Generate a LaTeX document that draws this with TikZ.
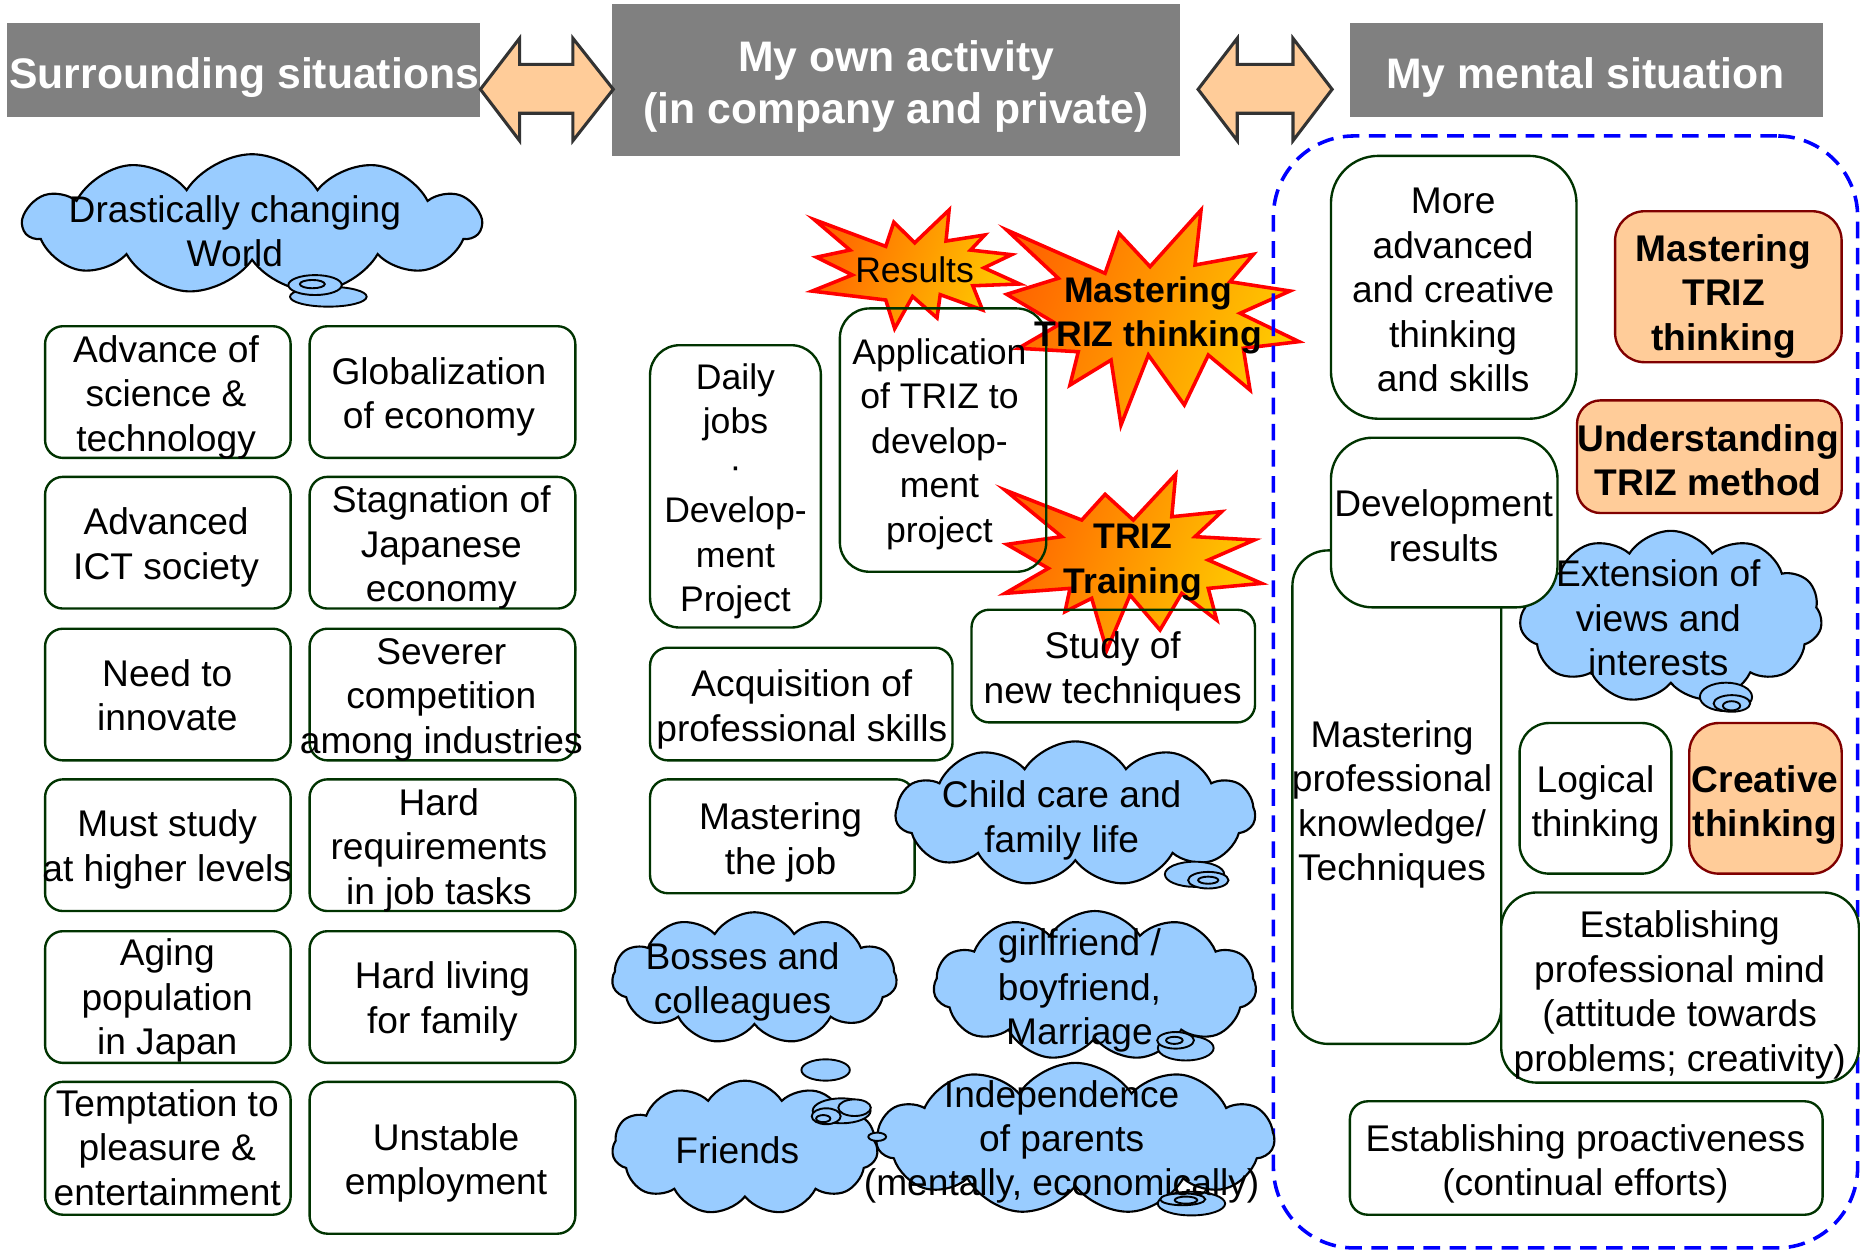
\documentclass[tikz,border=0pt]{standalone}
\usepackage{fontspec}
\setmainfont{Liberation Sans}
\usetikzlibrary{shapes.symbols}
\definecolor{hdrgray}{HTML}{808080}
\definecolor{peach}{HTML}{FFCC99}
\definecolor{arrowedge}{HTML}{333333}
\definecolor{boxgreen}{HTML}{003300}
\definecolor{orangeedge}{HTML}{800000}
\definecolor{cloudblue}{HTML}{99CCFF}
\definecolor{starred}{HTML}{FF0000}
\definecolor{starA}{HTML}{FF6600}
\definecolor{starB}{HTML}{FF9900}
\definecolor{starC}{HTML}{FFCC00}
\definecolor{dashblue}{HTML}{0000FF}
\begin{document}
\begin{tikzpicture}[x=1pt,y=-1pt,
  hdr/.style={rectangle, fill=hdrgray, draw=none, inner sep=0pt},
  hdrtxt/.style={text=white, font=\fontsize{36}{44}\selectfont\bfseries, align=center, inner sep=0pt, execute at begin node=\strut, execute at end node=\strut},
  txt/.style={font=\fontsize{31.3}{37.5}\selectfont, align=center, inner sep=0pt, execute at begin node=\strut, execute at end node=\strut},
  btxt/.style={font=\fontsize{31.3}{37.5}\selectfont\bfseries, align=center, inner sep=0pt, execute at begin node=\strut, execute at end node=\strut},
  sbtxt/.style={font=\fontsize{30}{37.5}\selectfont\bfseries, align=center, inner sep=0pt, execute at begin node=\strut, execute at end node=\strut},
  stxt/.style={font=\fontsize{30}{37.5}\selectfont, align=center, inner sep=0pt, execute at begin node=\strut, execute at end node=\strut},
  gbox/.style={rectangle, draw=boxgreen, line width=2pt, inner sep=0pt, rounded corners=#1},
  gbox/.default=15pt,
  obox/.style={rectangle, draw=orangeedge, fill=peach, line width=2pt, inner sep=0pt, rounded corners=#1},
  obox/.default=22pt,
  cloudy/.style={cloud, cloud puffs=11, cloud puff arc=115, cloud ignores aspect, draw=black, fill=cloudblue, line width=1.8pt, inner sep=0pt},
  bubble/.style={draw=black, fill=cloudblue, line width=1.6pt},
  starshape/.style={draw=starred, line width=3pt, line join=miter, left color=starA, middle color=starB, right color=starC, shading angle=70},
  dblarrow/.style={draw=arrowedge, fill=peach, line width=2.6pt, line join=miter},
  dashframe/.style={rectangle, draw=dashblue, line width=3pt, dash pattern=on 14pt off 8pt, rounded corners=68pt, inner sep=0pt}
]
\useasboundingbox (0,0) rectangle (1568,1055.5);

% ---------- headers ----------
\node[hdr, minimum width=399pt, minimum height=79.2pt] (h1) at (205.5,59.3) {};
\node[hdr, minimum width=479pt, minimum height=127.8pt] (h2) at (755.5,67.3) {};
\node[hdr, minimum width=398.5pt, minimum height=79.2pt] (h3) at (1337.25,59.3) {};
\node[hdrtxt] (h1t) at (205.8,66) {Surrounding situations};
\node[hdrtxt] (h2t) at (755.5,75.5) {My own activity\\(in company and private)};
\node[hdrtxt] (h3t) at (1336.6,66) {My mental situation};

% ---------- double arrows ----------
\draw[dblarrow] (405,75.3) -- (438,32.3) -- (438,54.2) -- (483,54.2) -- (483,32.3) -- (517,75.3)
  -- (483,118.6) -- (483,95.5) -- (438,95.5) -- (438,118.6) -- cycle;
\draw[dblarrow] (1010,75.3) -- (1043,32.3) -- (1043,54.2) -- (1090,54.2) -- (1090,32.3) -- (1123,75.3)
  -- (1090,118.6) -- (1090,95.5) -- (1043,95.5) -- (1043,118.6) -- cycle;

% ---------- stars ----------
\draw[starshape] (686.5,185.2) -- (746.7,207.7) -- (753.5,187.3) -- (771.1,204.7) -- (800.1,177.0)
  -- (797.5,203.2) -- (830.2,198.1) -- (818.2,210.8) -- (852.8,214.7) -- (829.5,225.8)
  -- (859.6,239.4) -- (820.1,240.9) -- (828.3,261.3) -- (792.6,248.4) -- (789.9,268.0)
  -- (769.3,249.9) -- (754.2,277.0) -- (746.7,252.9) -- (684.6,245.4) -- (718.5,231.8)
  -- (688.3,216.8) -- (716.6,210.8) -- cycle;
\draw[starshape] (848.7,193.9) -- (931.6,230.4) -- (943.3,196.7) -- (969.5,224.8) -- (1012.5,177.0)
  -- (1007.4,223.4) -- (1056.6,214.4) -- (1036.9,237.5) -- (1087.5,245.3) -- (1045.4,264.1)
  -- (1095.1,288.0) -- (1048.1,293.6) -- (1053.8,328.8) -- (1018.6,299.3) -- (998.4,341.4)
  -- (968.1,299.3) -- (945.0,358.3) -- (936.6,303.5) -- (902.0,324.6) -- (909.0,296.5)
  -- (858.5,293.6) -- (892.2,274.0) -- (848.7,248.1) -- (892.2,234.6) -- cycle;
\draw[starshape] (847.2,413.1) -- (911.9,438.4) -- (931.6,416.7) -- (955.4,438.4) -- (991.1,399.9)
  -- (987.8,435.6) -- (1029.9,431.3) -- (1007.4,452.4) -- (1057.4,455.2) -- (1018.6,472.1)
  -- (1063.6,491.8) -- (1018.6,496.0) -- (1025.7,522.7) -- (996.2,500.2) -- (977.9,531.1)
  -- (952.6,501.6) -- (933.0,548.2) -- (920.3,504.4) -- (897.8,515.7) -- (902.0,496.0)
  -- (847.2,500.2) -- (883.8,479.1) -- (848.7,458.9) -- (895.0,452.4) -- cycle;

% ---------- dashed frame ----------
\node[dashframe, minimum width=492.5pt, minimum height=937.4pt] (frame) at (1319.75,583.3) {};

% ---------- extension cloud (behind boxes) ----------
\node[cloudy, minimum width=255pt, minimum height=145pt] (c7) at (1408.5,520) {};
\draw[bubble] (1455,587.5) ellipse [x radius=22pt, y radius=12pt];
\draw[bubble] (1460,593) ellipse [x radius=15.4pt, y radius=7pt];
\draw[bubble] (1459.7,595) ellipse [x radius=7.3pt, y radius=3.9pt];

% ---------- left column boxes ----------
\node[gbox, minimum width=207pt, minimum height=111pt] (l11) at (141.5,330.5) {};
\node[gbox, minimum width=224pt, minimum height=111pt] (l12) at (373,330.5) {};
\node[gbox, minimum width=207pt, minimum height=111pt] (l21) at (141.5,457.5) {};
\node[gbox, minimum width=224pt, minimum height=111pt] (l22) at (373,457.5) {};
\node[gbox, minimum width=207pt, minimum height=111pt] (l31) at (141.5,585.5) {};
\node[gbox, minimum width=224pt, minimum height=111pt] (l32) at (373,585.5) {};
\node[gbox, minimum width=207pt, minimum height=111pt] (l41) at (141.5,712.5) {};
\node[gbox, minimum width=224pt, minimum height=111pt] (l42) at (373,712.5) {};
\node[gbox, minimum width=207pt, minimum height=111pt] (l51) at (141.5,840.5) {};
\node[gbox, minimum width=224pt, minimum height=111pt] (l52) at (373,840.5) {};
\node[gbox, minimum width=207pt, minimum height=112pt] (l61) at (141.5,968) {};
\node[gbox, minimum width=224pt, minimum height=128pt] (l62) at (373,976) {};

% ---------- middle column boxes ----------
\node[gbox=25pt, minimum width=144pt, minimum height=238pt] (m1) at (620,410) {};
\node[gbox=25pt, minimum width=174pt, minimum height=222pt] (m2) at (795,371) {};
\node[gbox, minimum width=255pt, minimum height=95pt] (m3) at (675.5,593.5) {};
\node[gbox, minimum width=239pt, minimum height=95pt] (m4) at (938.5,561.5) {};
\node[gbox, minimum width=223pt, minimum height=96pt] (m5) at (659.5,705) {};

% ---------- right column boxes ----------
\node[gbox=40pt, fill=white, minimum width=207pt, minimum height=221.6pt] (r1) at (1225.5,242.2) {};
\node[obox=25pt, minimum width=191pt, minimum height=127.3pt] (r2) at (1457,241.7) {};
\node[obox=20pt, minimum width=223.2pt, minimum height=95pt] (r3) at (1441,385) {};
\node[gbox=30pt, fill=white, minimum width=176pt, minimum height=416pt] (r5) at (1177.5,672) {};
\node[gbox=35pt, fill=white, minimum width=191pt, minimum height=143pt] (r4) at (1217.5,440.5) {};
\node[gbox=25pt, fill=white, minimum width=128pt, minimum height=127pt] (r6) at (1345,673) {};
\node[obox=25pt, minimum width=128.5pt, minimum height=127pt] (r7) at (1488.3,673) {};
\node[gbox=30pt, fill=white, minimum width=301.6pt, minimum height=160.3pt] (r8) at (1416.3,832.5) {};
\node[gbox, fill=white, minimum width=398.5pt, minimum height=95.6pt] (r9) at (1337.2,976.2) {};

% ---------- clouds ----------
\node[cloudy, minimum width=385pt, minimum height=118pt] (c1) at (212.5,189) {};
\draw[bubble] (276.8,250.1) ellipse [x radius=32.3pt, y radius=8.4pt];
\draw[bubble] (265.6,240.3) ellipse [x radius=22.5pt, y radius=8.4pt];
\draw[bubble] (263.3,239.5) ellipse [x radius=10.5pt, y radius=3.5pt];

\node[cloudy, minimum width=303pt, minimum height=122pt] (c2) at (906.5,686) {};
\draw[bubble] (1007,737) ellipse [x radius=25pt, y radius=10.6pt];
\draw[bubble] (1018.6,742) ellipse [x radius=17pt, y radius=7pt];
\draw[bubble] (1018.5,742) ellipse [x radius=8.5pt, y radius=3pt];

\node[cloudy, minimum width=240pt, minimum height=111pt] (c3) at (636,824.5) {};

\node[cloudy, minimum width=335pt, minimum height=128pt] (c6) at (906.5,960) {};
\node[cloudy, minimum width=272pt, minimum height=126pt] (c4) at (923,831) {};
\draw[bubble] (999.6,883.5) ellipse [x radius=23.5pt, y radius=10.5pt];
\draw[bubble] (991,877) ellipse [x radius=15.5pt, y radius=7pt];
\draw[bubble] (990,877) ellipse [x radius=7pt, y radius=3pt];
\draw[bubble] (1004.4,1014.6) ellipse [x radius=28.4pt, y radius=10pt];
\draw[bubble] (997,1011) ellipse [x radius=19pt, y radius=5pt];
\draw[bubble] (999.8,1011.7) ellipse [x radius=9.5pt, y radius=3pt];

\node[cloudy, minimum width=224pt, minimum height=113pt] (c5) at (628,967.5) {};
\draw[bubble] (696,902) ellipse [x radius=20.4pt, y radius=9pt];
\draw[bubble] (709.5,936.4) ellipse [x radius=24.4pt, y radius=10.5pt];
\draw[bubble] (720.4,933.8) ellipse [x radius=13.7pt, y radius=7pt];
\draw[bubble] (696.5,941) ellipse [x radius=12.2pt, y radius=6.7pt];
\draw[bubble] (694,943) ellipse [x radius=6pt, y radius=3pt];
\draw[bubble] (739.5,958.3) ellipse [x radius=7.5pt, y radius=3.5pt];

% ---------- texts ----------
\node[txt] (t11) at (140,337) {Advance of\\science \&\\technology};
\node[txt] (t12) at (370,337) {Globalization\\of economy};
\node[txt] (t21) at (140,464) {Advanced\\ICT society};
\node[txt] (t22) at (372,464) {Stagnation of\\Japanese\\economy};
\node[txt] (t31) at (141,591.5) {Need to\\innovate};
\node[txt] (t32) at (372,592) {Severer\\competition\\among industries};
\node[txt] (t41) at (141,718.5) {Must study\\at higher levels};
\node[txt] (t42) at (370,719) {Hard\\requirements\\in job tasks};
\node[txt] (t51) at (141,846) {Aging\\population\\in Japan};
\node[txt] (t52) at (373,846.5) {Hard living\\for family};
\node[txt] (t61) at (141,973) {Temptation to\\pleasure \&\\entertainment};
\node[txt] (t62) at (376,982.5) {Unstable\\employment};

\node[txt] (tc1) at (198,200.5) {Drastically changing\\World};

\node[stxt] (tm1) at (620,416.5) {Daily\\jobs\\·\\Develop-\\ment\\Project};
\node[stxt] (tm2) at (792,377) {Application\\of TRIZ to\\develop-\\ment\\project};
\node[txt] (tm3) at (676,600.5) {Acquisition of\\professional skills};
\node[txt] (tm4) at (938,568.5) {Study of\\new techniques};
\node[txt] (tm5) at (658,712.5) {Mastering\\the job};

\node[stxt] (ts1) at (771,231) {Results};
\node[sbtxt] (ts2) at (968,268.5) {Mastering\\TRIZ thinking};
\node[sbtxt] (ts3) at (955,476.5) {TRIZ\\Training};

\node[txt] (tc2) at (895,694) {Child care and\\family life};
\node[txt] (tc3) at (626,830) {Bosses and\\colleagues};
\node[txt] (tc4) at (910,837.5) {girlfriend /\\boyfriend,\\Marriage};
\node[txt] (tc5) at (621.5,973) {Friends};
\node[txt] (tc6) at (895,965) {Independence\\of parents\\(mentally, economically)};

\node[txt] (tr1) at (1225,250) {More\\advanced\\and creative\\thinking\\and skills};
\node[btxt] (tr2) at (1453,252) {Mastering\\TRIZ\\thinking};
\node[btxt] (tr3) at (1440,393.5) {Understanding\\TRIZ method};
\node[txt] (tr4) at (1217,448.5) {Development\\results};
\node[txt] (tr5) at (1173.5,680.5) {Mastering\\professional\\knowledge/\\Techniques};
\node[txt] (tc7) at (1398,526.5) {Extension of\\views and\\interests};
\node[txt] (tr6) at (1345,681) {Logical\\thinking};
\node[btxt] (tr7) at (1488,681) {Creative\\thinking};
\node[txt] (tr8) at (1416,841) {Establishing\\professional mind\\(attitude towards\\problems; creativity)};
\node[txt] (tr9) at (1336.5,983.5) {Establishing proactiveness\\(continual efforts)};
\end{tikzpicture}
\end{document}
